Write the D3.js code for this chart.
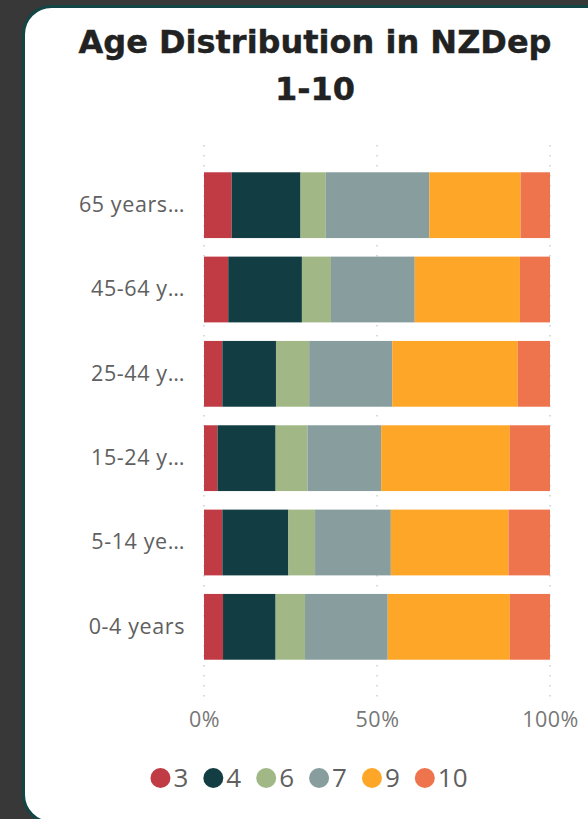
<!DOCTYPE html>
<html>
<head>
<meta charset="utf-8">
<script src="https://cdn.jsdelivr.net/npm/d3@7"></script>
<style>
  html, body { margin: 0; padding: 0; background: #383838; overflow: hidden; }
  svg { display: block; }
</style>
</head>
<body>
<div id="chart"></div>
<script>
// age groups, top to bottom
const ageGroups = ["65 years…", "45-64 y…", "25-44 y…", "15-24 y…", "5-14 ye…", "0-4 years"];
// NZDep deciles shown in the legend
const deciles = ["3", "4", "6", "7", "9", "10"];
const decileColors = ["#C13B44", "#123E43", "#A1B886", "#879D9E", "#FEA628", "#EE744E"];
// share (%) of each age group by decile, one array per decile
const dep3  = [8.0, 7.0, 5.3, 3.9, 5.3, 5.5];
const dep4  = [19.9, 21.3, 15.5, 16.8, 19.1, 15.2];
const dep6  = [7.3, 8.4, 9.6, 9.2, 7.7, 8.5];
const dep7  = [29.9, 24.2, 24.0, 21.3, 21.9, 23.9];
const dep9  = [26.4, 30.4, 36.3, 37.2, 34.0, 35.3];
const dep10 = [8.5, 8.7, 9.3, 11.6, 12.0, 11.6];
const xTicks = [0, 0.5, 1];

const w = 588, h = 819;
const svg = d3.select("#chart").append("svg").attr("width", w).attr("height", h);

// card
svg.append("rect")
  .attr("x", 23.5).attr("y", 6.5)
  .attr("width", 600).attr("height", 816)
  .attr("rx", 28).attr("ry", 28)
  .attr("fill", "#ffffff")
  .attr("stroke", "#124646")
  .attr("stroke-width", 3);

// title
const title = svg.append("text")
  .attr("text-anchor", "middle")
  .attr("font-family", "DejaVu Sans, sans-serif")
  .attr("font-weight", "bold")
  .attr("font-size", 32)
  .attr("fill", "#222222")
  .attr("stroke", "#222222")
  .attr("stroke-width", 0.4);
title.append("tspan").attr("x", 315).attr("y", 53).text("Age Distribution in NZDep");
title.append("tspan").attr("x", 315).attr("y", 100).text("1-10");

// build stacked rows
const series = [dep3, dep4, dep6, dep7, dep9, dep10];
const rows = ageGroups.map((g, i) => {
  const row = { group: g };
  deciles.forEach((d, j) => { row[d] = series[j][i]; });
  return row;
});
const stack = d3.stack().keys(deciles).offset(d3.stackOffsetExpand);
const stacked = stack(rows);

const xScale = d3.scaleLinear().domain([0, 1]).range([204, 550]);
const yScale = d3.scaleBand().domain(ageGroups).range([163, 669])
  .paddingInner(0.22).paddingOuter(0.11);
const color = d3.scaleOrdinal().domain(deciles).range(decileColors);

// dotted gridlines
svg.append("g").selectAll("line")
  .data(xTicks)
  .enter()
  .append("line")
  .attr("x1", d => xScale(d)).attr("x2", d => xScale(d))
  .attr("y1", 145).attr("y2", 700)
  .attr("stroke", "#c4c4c4")
  .attr("stroke-width", 1.2)
  .attr("stroke-dasharray", "1.5,8.5");

// bars
svg.append("g").selectAll("g")
  .data(stacked)
  .enter()
  .append("g")
  .attr("fill", d => color(d.key))
  .selectAll("rect")
  .data(d => d)
  .enter()
  .append("rect")
  .attr("x", d => xScale(d[0]))
  .attr("y", d => yScale(d.data.group))
  .attr("width", d => xScale(d[1]) - xScale(d[0]))
  .attr("height", yScale.bandwidth());

// y axis labels
const yAxis = d3.axisLeft(yScale).tickSize(0).tickPadding(0);
const yg = svg.append("g")
  .attr("transform", "translate(185,0)")
  .call(yAxis);
yg.select(".domain").remove();
yg.selectAll("text")
  .attr("font-family", "Open Sans, sans-serif")
  .attr("font-size", 21.5)
  .attr("letter-spacing", 0.6)
  .attr("fill", "#606060");

// x axis labels
const xAxis = d3.axisBottom(xScale).tickValues(xTicks).tickSize(0).tickPadding(0)
  .tickFormat(d3.format(".0%"));
const xg = svg.append("g")
  .attr("transform", "translate(0,712)")
  .call(xAxis);
xg.select(".domain").remove();
xg.selectAll("text")
  .attr("font-family", "Open Sans, sans-serif")
  .attr("font-size", 21.5)
  .attr("letter-spacing", 0.5)
  .attr("fill", "#777777")
  .attr("dy", "0.71em");

// legend
const legend = svg.append("g");
let cx = 0;
deciles.forEach((d, i) => {
  const item = legend.append("g").attr("transform", `translate(${cx},0)`);
  item.append("circle").attr("cx", 10).attr("cy", 0).attr("r", 10).attr("fill", color(d));
  const t = item.append("text")
    .attr("x", 23).attr("y", 0).attr("dy", "0.36em")
    .attr("font-family", "Open Sans, sans-serif")
    .attr("font-size", 26)
    .attr("fill", "#606060")
    .text(d);
  cx += 23 + t.node().getComputedTextLength() + 15;
});
const legendWidth = cx - 15;
legend.attr("transform", `translate(${309 - legendWidth / 2},778)`);
</script>
</body>
</html>
